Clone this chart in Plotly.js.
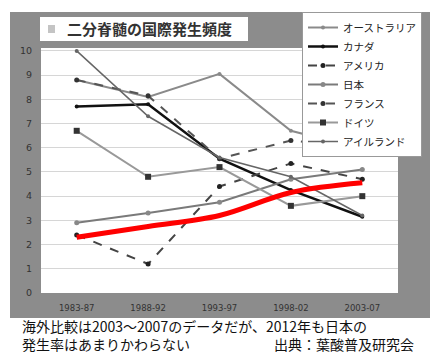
<!DOCTYPE html>
<html><head><meta charset="utf-8">
<script src="https://cdn.plot.ly/plotly-3.0.1.min.js"></script>
<style>html,body{margin:0;padding:0;background:#fff}#c{width:437px;height:356px}</style>
</head><body><div id="c"></div>
<script>
const periods = ["1983-87","1988-92","1993-97","1998-02","2003-07"];
const australia = [8.8, 8.1, 9.05, 6.7, 5.95];
const canada    = [7.7, 7.8, 5.55, 4.25, 3.15];
const usa       = [2.4, 1.2, 4.4, 5.35, 4.7];
const japan     = [2.9, 3.3, 3.75, 4.7, 5.1];
const france    = [8.8, 8.15, 5.55, 6.3, 6.0];
const germany   = [6.7, 4.8, 5.2, 3.6, 4.0];
const ireland   = [10.0, 7.3, 5.6, 4.8, 3.2];
const japanHighlight = [2.3, 2.75, 3.2, 4.15, 4.55];
const seriesNames = ["オーストラリア","カナダ","アメリカ","日本","フランス","ドイツ","アイルランド"];
const titleText = "二分脊髄の国際発生頻度";
const captionLine1 = "海外比較は2003〜2007のデータだが、2012年も日本の";
const captionLine2 = "発生率はあまりかわらない";
const sourceText = "出典：葉酸普及研究会";

// pixel helpers for layout placement (plot area x 41..398, y 48..293)
const L=41, R=398, T=48, B=293;
const px = x => (x - L) / (R - L);
const py = y => (B - y) / (B - T);

const traces = [
  {name: seriesNames[0], y: australia, line:{color:'#8a8a8a', width:2}, marker:{size:4, color:'#8a8a8a'}},
  {name: seriesNames[1], y: canada, line:{color:'#111111', width:2.5}, marker:{size:4, color:'#111'}},
  {name: seriesNames[2], y: usa, line:{color:'#444444', width:2, dash:'dash'}, marker:{size:5, color:'#222'}},
  {name: seriesNames[3], y: japan, line:{color:'#7a7a7a', width:2}, marker:{size:5, color:'#888'}},
  {name: seriesNames[4], y: france, line:{color:'#555555', width:2, dash:'dash'}, marker:{size:5, color:'#333'}},
  {name: seriesNames[5], y: germany, line:{color:'#999999', width:2}, marker:{size:6, symbol:'square', color:'#333'}},
  {name: seriesNames[6], y: ireland, line:{color:'#666666', width:1.5}, marker:{size:4, color:'#666'}}
].map(t => Object.assign({type:'scatter', mode:'lines+markers', x: periods}, t));

traces.push({type:'scatter', mode:'lines', x: periods, y: japanHighlight, name:'日本 (強調)',
  showlegend:false, line:{color:'#ff0000', width:5, shape:'spline'}});

const gap = "\u3000\u3000\u3000\u3000\u3000\u3000";

const layout = {
  width:437, height:356,
  margin:{l:L, r:437-R, t:T, b:356-B, pad:0},
  paper_bgcolor:'#ffffff', plot_bgcolor:'#ffffff',
  font:{family:'"Noto Sans CJK JP", "Noto Sans", sans-serif', color:'#222'},
  showlegend:true,
  legend:{x:px(302), y:py(12), xanchor:'left', yanchor:'top', bgcolor:'#ffffff',
    bordercolor:'#999', borderwidth:1, font:{size:10.5, color:'#222'}, itemwidth:30,
    tracegroupgap:0},
  xaxis:{type:'category', range:[-0.5,4.5], showgrid:false, zeroline:false, showline:false,
    ticks:'', ticklabelstandoff:8, tickfont:{family:'"DejaVu Sans", sans-serif', size:8.5, color:'#333'}},
  yaxis:{range:[0,10.12], dtick:1, showgrid:true, gridcolor:'#d6d6d6', gridwidth:1, zeroline:false,
    showline:false, ticks:'', ticklabelstandoff:8, tickfont:{family:'"DejaVu Sans", sans-serif', size:9.5, color:'#333'}},
  shapes:[
    {type:'rect', xref:'paper', yref:'paper', x0:px(10), x1:px(430), y0:py(12), y1:py(318), fillcolor:'#8c8c8c', line:{width:0}, layer:'below'},
    {type:'rect', xref:'paper', yref:'paper', x0:0, x1:1, y0:0, y1:1, fillcolor:'#ffffff', line:{width:0}, layer:'below'},
    {type:'rect', xref:'paper', yref:'paper', x0:px(40), x1:px(248), y0:py(17), y1:py(41), fillcolor:'#ffffff', line:{width:0}, layer:'below'},
    {type:'rect', xref:'paper', yref:'paper', x0:px(48), x1:px(55), y0:py(25), y1:py(33), fillcolor:'#c4c4c4', line:{width:0}, layer:'below'}
  ],
  annotations:[
    {text:'<b>'+titleText+'</b>', xref:'paper', yref:'paper', x:px(65), y:py(29), xanchor:'left', yanchor:'middle', showarrow:false, font:{size:15, color:'#333'}},
    {text: captionLine1 + '<br>' + captionLine2 + gap + sourceText, xref:'paper', yref:'paper', x:px(20), y:py(355.5), xanchor:'left', yanchor:'bottom', align:'left', showarrow:false, font:{size:14, color:'#111'}}
  ]
};
Plotly.newPlot('c', traces, layout, {staticPlot:true, displayModeBar:false});
</script></body></html>
